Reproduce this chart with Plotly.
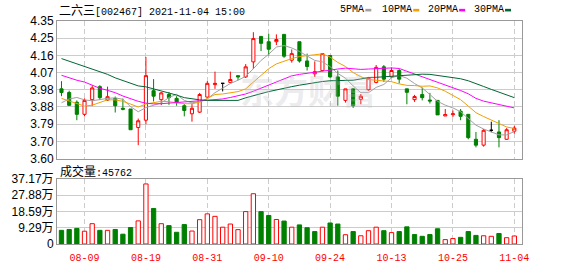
import plotly.graph_objects as go

# ---------------- data ----------------
dates = ["08-04", "08-05", "08-06", "08-09", "08-10", "08-11", "08-12", "08-13", "08-16", "08-17",
         "08-18", "08-19", "08-20", "08-23", "08-24", "08-25", "08-26", "08-27", "08-30", "08-31",
         "09-01", "09-02", "09-03", "09-06", "09-07", "09-08", "09-09", "09-10", "09-13", "09-14",
         "09-15", "09-16", "09-17", "09-22", "09-23", "09-24", "09-27", "09-28", "09-29", "09-30",
         "10-08", "10-11", "10-12", "10-13", "10-14", "10-15", "10-18", "10-19", "10-20", "10-21",
         "10-22", "10-25", "10-26", "10-27", "10-28", "10-29", "11-01", "11-02", "11-03", "11-04"]

opens = [3.980, 3.960, 3.907, 3.841, 3.921, 3.992, 3.919, 3.928, 3.874, 3.870,
         3.769, 3.809, 3.970, 3.921, 3.949, 3.928, 3.888, 3.844, 3.853, 3.935,
         4.003, 4.010, 4.015, 4.052, 4.045, 4.127, 4.266, 4.237, 4.237, 4.277,
         4.136, 4.237, 4.132, 4.062, 4.080, 4.162, 4.045, 3.917, 3.980, 3.923,
         3.975, 4.015, 4.100, 4.045, 4.080, 3.980, 3.921, 3.949, 3.919, 3.917,
         3.832, 3.839, 3.858, 3.841, 3.705, 3.673, 3.754, 3.745, 3.705, 3.749]
highs = [4.022, 3.970, 3.917, 3.928, 3.999, 4.000, 3.992, 3.938, 3.927, 3.870,
         3.818, 4.154, 4.033, 3.963, 3.963, 3.940, 3.897, 3.897, 3.958, 4.022,
         4.074, 4.010, 4.074, 4.052, 4.115, 4.289, 4.266, 4.280, 4.277, 4.277,
         4.195, 4.237, 4.172, 4.130, 4.175, 4.162, 4.080, 3.980, 3.984, 3.952,
         4.045, 4.110, 4.110, 4.097, 4.089, 3.980, 3.947, 3.987, 3.958, 3.917,
         3.870, 3.862, 3.870, 3.841, 3.745, 3.761, 3.801, 3.809, 3.766, 3.778]
lows = [3.940, 3.888, 3.809, 3.830, 3.886, 3.919, 3.914, 3.851, 3.863, 3.757,
        3.673, 3.787, 3.911, 3.891, 3.893, 3.888, 3.830, 3.801, 3.848, 3.932,
        3.980, 3.966, 4.015, 4.027, 4.039, 4.088, 4.186, 4.162, 4.219, 4.149,
        4.123, 4.123, 4.080, 4.045, 4.076, 4.041, 3.888, 3.905, 3.876, 3.896,
        3.970, 4.010, 4.018, 4.039, 4.010, 3.896, 3.909, 3.917, 3.900, 3.838,
        3.832, 3.827, 3.809, 3.705, 3.661, 3.665, 3.743, 3.661, 3.702, 3.736]
closes = [3.960, 3.890, 3.841, 3.917, 3.985, 3.932, 3.937, 3.888, 3.869, 3.757,
          3.806, 4.052, 3.940, 3.958, 3.932, 3.905, 3.862, 3.874, 3.949, 4.010,
          4.010, 4.010, 4.031, 4.045, 4.100, 4.254, 4.228, 4.196, 4.249, 4.158,
          4.172, 4.132, 4.102, 4.074, 4.172, 4.045, 3.940, 3.980, 3.888, 3.940,
          4.039, 4.097, 4.033, 4.080, 4.033, 3.961, 3.938, 3.932, 3.914, 3.838,
          3.840, 3.844, 3.830, 3.714, 3.673, 3.754, 3.754, 3.714, 3.757, 3.766]

volumes = [78000, 83000, 89000, 73000, 116000, 78000, 78000, 83000, 56000, 94000,
           132000, 343000, 203000, 116000, 105000, 67000, 111000, 74000, 139000, 172000,
           158000, 96000, 114000, 82000, 185000, 287000, 185000, 163000, 140000, 131000,
           96000, 109000, 93000, 71000, 96000, 120000, 114000, 53000, 71000, 47000,
           76000, 96000, 76000, 65000, 71000, 98000, 54000, 44000, 54000, 87000,
           25000, 31000, 38000, 71000, 49000, 47000, 44000, 60000, 36000, 45762]

ma5 = [3.904, 3.925, 3.933, 3.920, 3.915, 3.923, 3.928, 3.931, 3.923, 3.883,
       3.855, 3.878, 3.891, 3.903, 3.933, 3.950, 3.917, 3.904, 3.910, 3.925,
       3.959, 3.985, 4.009, 4.027, 4.048, 4.090, 4.135, 4.169, 4.208, 4.216,
       4.203, 4.184, 4.161, 4.135, 4.127, 4.101, 4.064, 4.038, 3.996, 3.959,
       3.959, 3.988, 4.004, 4.040, 4.053, 4.038, 4.009, 3.985, 3.949, 3.912,
       3.891, 3.876, 3.855, 3.818, 3.782, 3.761, 3.745, 3.729, 3.729, 3.747]
ma10 = [3.928, 3.915, 3.899, 3.886, 3.891, 3.907, 3.920, 3.920, 3.912, 3.897,
        3.881, 3.897, 3.904, 3.912, 3.910, 3.904, 3.899, 3.899, 3.907, 3.928,
        3.949, 3.952, 3.957, 3.965, 3.980, 4.017, 4.056, 4.090, 4.116, 4.132,
        4.145, 4.156, 4.163, 4.166, 4.171, 4.153, 4.124, 4.102, 4.069, 4.046,
        4.031, 4.027, 4.021, 4.019, 4.007, 3.999, 3.998, 3.994, 3.996, 3.985,
        3.967, 3.944, 3.921, 3.886, 3.850, 3.829, 3.810, 3.788, 3.772, 3.764]
ma20 = [4.054, 4.040, 4.027, 4.017, 3.999, 3.983, 3.972, 3.959, 3.941, 3.925,
        3.912, 3.902, 3.898, 3.899, 3.903, 3.904, 3.910, 3.911, 3.915, 3.918,
        3.920, 3.925, 3.933, 3.941, 3.952, 3.967, 3.983, 3.999, 4.017, 4.035,
        4.051, 4.059, 4.065, 4.072, 4.080, 4.085, 4.088, 4.093, 4.090, 4.086,
        4.088, 4.092, 4.092, 4.094, 4.091, 4.076, 4.061, 4.048, 4.031, 4.015,
        3.999, 3.984, 3.971, 3.953, 3.928, 3.913, 3.904, 3.891, 3.884, 3.876]
ma30 = [4.145, 4.131, 4.116, 4.103, 4.088, 4.074, 4.059, 4.040, 4.025, 4.009,
        3.996, 3.991, 3.980, 3.970, 3.959, 3.946, 3.932, 3.924, 3.920, 3.917,
        3.917, 3.917, 3.917, 3.917, 3.931, 3.944, 3.954, 3.965, 3.975, 3.985,
        3.992, 4.000, 4.008, 4.014, 4.020, 4.024, 4.024, 4.027, 4.027, 4.034,
        4.042, 4.043, 4.046, 4.050, 4.054, 4.056, 4.058, 4.060, 4.059, 4.054,
        4.047, 4.042, 4.035, 4.024, 4.010, 3.993, 3.977, 3.961, 3.945, 3.932]

price_ticks = ["3.60", "3.70", "3.79", "3.88", "3.98", "4.07", "4.16", "4.25", "4.35"]
price_min, price_max = 3.60, 4.35
vol_ticks = ["0", "9.29万", "18.59万", "27.88万", "37.17万"]
vol_max = 371700
label_dates = ["08-09", "08-19", "08-31", "09-10", "09-24", "10-13", "10-25", "11-04"]

ma_names = ["5PMA", "10PMA", "20PMA", "30PMA"]
ma_colors = ["#a0a0a0", "#f0a000", "#ff00ff", "#006633"]

stock_name = "二六三"
stock_code = "[002467]"
stamp = "2021-11-04 15:00"

RED = "#ff0000"
GREEN = "#008000"

# ---------------- figure ----------------
W, H = 578, 276
L, R, T, B = 56, 56, 21, 22
plot_w = W - L - R
plot_h = H - T - B

def px_x(px):
    return (px - L) / plot_w

def px_y(py):
    return (H - B - py) / plot_h

n = len(dates)
normal = [i for i in range(n) if opens[i] != closes[i]]
doji = [i for i in range(n) if opens[i] == closes[i]]

fig = go.Figure()

fig.add_trace(go.Candlestick(
    x=[dates[i] for i in normal],
    open=[opens[i] for i in normal], high=[highs[i] for i in normal],
    low=[lows[i] for i in normal], close=[closes[i] for i in normal],
    increasing=dict(line=dict(color=RED, width=1), fillcolor="#ffffff"),
    decreasing=dict(line=dict(color=GREEN, width=1), fillcolor=GREEN),
    whiskerwidth=0, xaxis="x", yaxis="y", hoverinfo="skip"))

fig.add_trace(go.Candlestick(
    x=[dates[i] for i in doji],
    open=[opens[i] for i in doji], high=[highs[i] for i in doji],
    low=[lows[i] for i in doji], close=[closes[i] for i in doji],
    increasing=dict(line=dict(color="#000000", width=1), fillcolor="#000000"),
    decreasing=dict(line=dict(color="#000000", width=1), fillcolor="#000000"),
    whiskerwidth=0, xaxis="x", yaxis="y", hoverinfo="skip"))

for vals, name, col in zip([ma5, ma10, ma20, ma30], ma_names, ma_colors):
    fig.add_trace(go.Scatter(x=dates, y=vals, mode="lines", name=name,
                             line=dict(color=col, width=1), xaxis="x", yaxis="y",
                             hoverinfo="skip"))

vol_up = []
for i in range(n):
    ref = closes[i - 1] if i > 0 else opens[i]
    vol_up.append(closes[i] >= ref)
fig.add_trace(go.Bar(
    x=dates, y=volumes, width=0.56,
    marker=dict(color=["#ffffff" if u else GREEN for u in vol_up],
                line=dict(color=[RED if u else GREEN for u in vol_up], width=1)),
    xaxis="x2", yaxis="y2", hoverinfo="skip"))

x_range = [-0.585, n - 0.0]
common_x = dict(type="category", categoryorder="array", categoryarray=dates,
                range=x_range, tickmode="array", tickvals=label_dates, ticktext=label_dates,
                showgrid=True, gridcolor="#cccccc", griddash="5px,3px", gridwidth=1,
                showline=True, linecolor="#999999", linewidth=1, mirror=True,
                ticks="", zeroline=False, fixedrange=True, rangeslider=dict(visible=False))

step = (price_max - price_min) / (len(price_ticks) - 1)
price_vals = [price_min + k * step for k in range(len(price_ticks))]
vstep = vol_max / (len(vol_ticks) - 1)
vol_vals = [k * vstep for k in range(len(vol_ticks))]

price_dom0 = px_y(164.7)
vol_dom1 = px_y(186)

fig.update_layout(
    width=W, height=H, margin=dict(l=L, r=R, t=T, b=B, pad=0),
    paper_bgcolor="#ffffff", plot_bgcolor="#ffffff", showlegend=False,
    boxgap=0.42, bargap=0.4,
    font=dict(family="Liberation Sans, Arial, Noto Sans CJK SC", size=12, color="#000000"),
    xaxis=dict(common_x, anchor="y", showticklabels=False),
    xaxis2=dict(common_x, anchor="y2", showticklabels=True, ticklabelstandoff=4,
                tickfont=dict(family="Liberation Mono, DejaVu Sans Mono", size=10, color=RED)),
    yaxis=dict(domain=[price_dom0, 1.0], range=[price_min, price_max], tickmode="array",
               tickvals=price_vals, ticktext=price_ticks, showgrid=True, gridcolor="#cccccc",
               gridwidth=1, showline=True, linecolor="#999999", mirror=True, ticks="",
               zeroline=False, fixedrange=True,
               tickfont=dict(family="Liberation Sans, Arial", size=12, color="#000000")),
    yaxis2=dict(domain=[0.0, vol_dom1], range=[0, vol_max], tickmode="array",
                tickvals=vol_vals, ticktext=vol_ticks, showgrid=True, gridcolor="#cccccc",
                gridwidth=1, showline=True, linecolor="#999999", mirror=True, ticks="",
                zeroline=False, fixedrange=True,
                tickfont=dict(family="Liberation Sans, Arial, Noto Sans CJK SC", size=12,
                              color="#000000")),
)

annotations = []
# title
annotations.append(dict(
    xref="paper", yref="paper", x=px_x(56), y=px_y(9.5), xanchor="left", yanchor="middle",
    showarrow=False,
    text='<span style="font-family:Noto Sans CJK SC;font-size:12px">' + stock_name + '</span>'
         + stock_code + " " + stamp,
    font=dict(family="Liberation Mono, DejaVu Sans Mono", size=10, color="#000000")))
# volume label
annotations.append(dict(
    xref="paper", yref="paper", x=px_x(57), y=px_y(177), xanchor="left", yanchor="middle",
    showarrow=False,
    text='<span style="font-family:Noto Sans CJK SC;font-size:12px">成交量</span>:' + str(volumes[-1]),
    font=dict(family="Liberation Mono, DejaVu Sans Mono", size=10, color="#000000")))
# watermark
annotations.append(dict(
    xref="paper", yref="paper", x=px_x(308), y=px_y(93), xanchor="center", yanchor="middle",
    showarrow=False, text="<b>东方财富</b>",
    font=dict(family="Noto Sans CJK SC", size=34, color="rgba(190,190,200,0.30)")))

# legend (texts + small colour bars)
legend_text_x = [338, 380, 426, 472]
legend_bar_x = [365, 413, 459, 505]
shapes = []
for name, col, tx, bx in zip(ma_names, ma_colors, legend_text_x, legend_bar_x):
    annotations.append(dict(
        xref="paper", yref="paper", x=px_x(tx), y=px_y(9.5), xanchor="left", yanchor="middle",
        showarrow=False, text=name,
        font=dict(family="Liberation Mono, DejaVu Sans Mono", size=10, color="#000000")))
    shapes.append(dict(type="rect", xref="paper", yref="paper",
                       x0=px_x(bx), x1=px_x(bx + 6), y0=px_y(11), y1=px_y(8.3),
                       fillcolor=col, line=dict(width=0)))

fig.update_layout(annotations=annotations, shapes=shapes)

fig.write_html("out.html")
